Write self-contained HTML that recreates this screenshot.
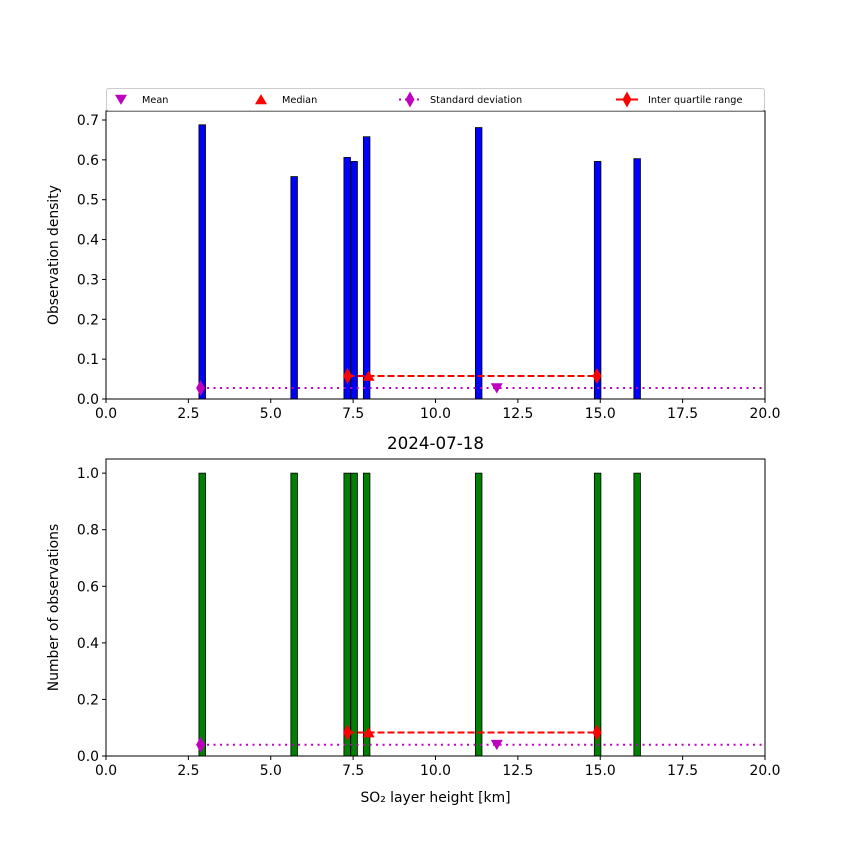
<!DOCTYPE html>
<html><head><meta charset="utf-8"><style>
body{margin:0;background:#fff}
svg text{font-family:"DejaVu Sans","Liberation Sans",sans-serif;fill:#000}
</style></head><body>
<svg id="c" width="850" height="850" xmlns="http://www.w3.org/2000/svg"></svg>
<script>
const heights = [2.92, 5.71, 7.32, 7.53, 7.91, 11.31, 14.92, 16.12];
const density = [0.688, 0.558, 0.606, 0.596, 0.658, 0.681, 0.596, 0.603];
const counts = [1, 1, 1, 1, 1, 1, 1, 1];
const meanVal = 11.86;
const medianVal = 7.97;
const stdRange = [2.87, 20];
const iqrRange = [7.33, 14.9];
const xTicks = [0, 2.5, 5, 7.5, 10, 12.5, 15, 17.5, 20];
const topTicks = [0, 0.1, 0.2, 0.3, 0.4, 0.5, 0.6, 0.7];
const botTicks = [0, 0.2, 0.4, 0.6, 0.8, 1.0];
const barW = 0.2;

const NS = "http://www.w3.org/2000/svg";
const svg = document.getElementById('c');
function mk(tag, attrs, parent, text){
  const e = document.createElementNS(NS, tag);
  for (const k in attrs) e.setAttribute(k, attrs[k]);
  if (text !== undefined) e.textContent = text;
  (parent || svg).appendChild(e);
  return e;
}
const L = 106, R = 765;
const xs = v => L + (v / 20) * (R - L);

function tri(g, cx, cy, down, color){
  const s = 6;
  const pts = down ? `${cx-s},${cy-s*0.8} ${cx+s},${cy-s*0.8} ${cx},${cy+s*0.9}` : `${cx-s},${cy+s*0.8} ${cx+s},${cy+s*0.8} ${cx},${cy-s*0.9}`;
  return mk('polygon', {points: pts, fill: color}, g);
}
function dia(g, cx, cy, color){
  return mk('polygon', {points: `${cx},${cy-8} ${cx+4.5},${cy} ${cx},${cy+8} ${cx-4.5},${cy}`, fill: color}, g);
}

function panel(name, top, bottom, ymax, vals, color, ticks, ylabel, statFrac){
  const ys = v => bottom - (v / ymax) * (bottom - top);
  const g = mk('g', {});
  
  
  vals.forEach((v, i) => {
    const x0 = xs(heights[i] - barW / 2), x1 = xs(heights[i] + barW / 2);
    const b = mk('rect', {x: x0, y: ys(v), width: x1 - x0, height: ys(0) - ys(v), fill: color, stroke: '#000', 'stroke-width': 0.8}, g);
    
    
  });
  const yStd = ys(ymax * statFrac[0]), yIqr = ys(ymax * statFrac[1]);
  const sl = mk('line', {x1: xs(stdRange[0]), x2: xs(stdRange[1]), y1: yStd, y2: yStd, stroke: '#bf00bf', 'stroke-width': 2, 'stroke-dasharray': '2,4.5'}, g);
  
  
  const sd = dia(g, xs(stdRange[0]), yStd, '#bf00bf');
  
  
  const il = mk('line', {x1: xs(iqrRange[0]), x2: xs(iqrRange[1]), y1: yIqr, y2: yIqr, stroke: '#ff0000', 'stroke-width': 2, 'stroke-dasharray': '7,3'}, g);
  
  
  iqrRange.forEach(v => {
    const d = dia(g, xs(v), yIqr, '#ff0000');
    
    
  });
  const md = tri(g, xs(medianVal), yIqr, false, '#ff0000');
  
  
  const mn = tri(g, xs(meanVal), yStd, true, '#bf00bf');
  
  
  const fr = mk('rect', {x: L, y: top, width: R - L, height: bottom - top, fill: 'none', stroke: '#000', 'stroke-width': 1}, g);
  
  
  xTicks.forEach(t => {
    mk('line', {x1: xs(t), x2: xs(t), y1: bottom, y2: bottom + 4, stroke: '#000'}, g);
    const tl = mk('text', {x: xs(t), y: bottom + 19, 'font-size': 13.9, 'text-anchor': 'middle'}, g, t.toFixed(1));
    
    
  });
  ticks.forEach(t => {
    mk('line', {x1: L - 4, x2: L, y1: ys(t), y2: ys(t), stroke: '#000'}, g);
    const tl = mk('text', {x: L - 7, y: ys(t) + 5, 'font-size': 13.9, 'text-anchor': 'end'}, g, t.toFixed(1));
    
    
  });
  const cy = (top + bottom) / 2;
  const yl = mk('text', {x: 58, y: cy, 'font-size': 13.9, 'text-anchor': 'middle', transform: `rotate(-90 58 ${cy})`}, g, ylabel);
  
  
}

panel('density-panel', 111, 399, 0.7226, density, '#0000ff', topTicks, 'Observation density', [0.038, 0.08]);
panel('count-panel', 459, 756, 1.05, counts, '#008000', botTicks, 'Number of observations', [0.038, 0.079]);

const title = mk('text', {x: 435.5, y: 449, 'font-size': 16.7, 'text-anchor': 'middle'}, svg, '2024-07-18');


const xt = mk('text', {x: 435.5, y: 802, 'font-size': 13.9, 'text-anchor': 'middle'}, svg, 'SO₂ layer height [km]');



const lg = mk('g', {});


mk('rect', {x: 106.5, y: 88.5, width: 658, height: 22, fill: '#fff', stroke: '#ccc', 'stroke-width': 1, rx: 2}, lg);
const ly = 99.5;
let e;
tri(lg, 121, ly, true, '#bf00bf');
e = mk('text', {x: 142, y: ly + 3.5, 'font-size': 9.7}, lg, 'Mean');


tri(lg, 261, ly, false, '#ff0000');
e = mk('text', {x: 282, y: ly + 3.5, 'font-size': 9.7}, lg, 'Median');


mk('line', {x1: 399, x2: 420, y1: ly, y2: ly, stroke: '#bf00bf', 'stroke-width': 2, 'stroke-dasharray': '2,4'}, lg);
dia(lg, 410, ly, '#bf00bf');
e = mk('text', {x: 430, y: ly + 3.5, 'font-size': 9.7}, lg, 'Standard deviation');


mk('line', {x1: 616, x2: 638, y1: ly, y2: ly, stroke: '#ff0000', 'stroke-width': 2}, lg);
dia(lg, 627, ly, '#ff0000');
e = mk('text', {x: 648, y: ly + 3.5, 'font-size': 9.7}, lg, 'Inter quartile range');


</script>
</body></html>
